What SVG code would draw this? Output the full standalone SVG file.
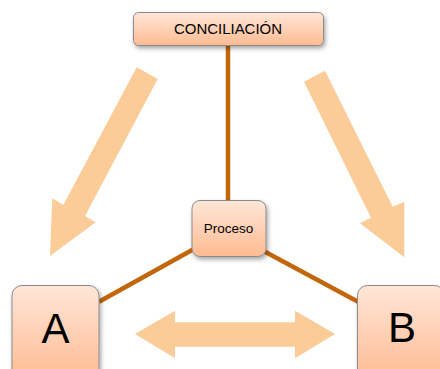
<svg xmlns="http://www.w3.org/2000/svg" width="440" height="369" viewBox="0 0 440 369">
  <defs>
    <linearGradient id="gBox" x1="0" y1="0" x2="0" y2="1">
      <stop offset="0" stop-color="#FFE6D8"/>
      <stop offset="1" stop-color="#FFBB92"/>
    </linearGradient>
    <filter id="shadow" x="-20%" y="-20%" width="150%" height="160%">
      <feDropShadow dx="1.5" dy="2.5" stdDeviation="2" flood-color="#000" flood-opacity="0.35"/>
    </filter>
  </defs>
  <style>
    .box { fill: url(#gBox); stroke: #8a8a8a; stroke-width: 1; filter: url(#shadow); }
    .lbl { font-family: "Liberation Sans", Arial, sans-serif; fill: #000; text-anchor: middle; }
    .con { stroke: #C2660A; stroke-width: 4.5; fill: none; }
    .bigArrow { fill: #FBCB98; }
  </style>
  <rect width="440" height="369" fill="#ffffff"/>
  <g id="arrows">
    <polygon class="bigArrow" points="136.7,67.3 157.7,79 85,216 95.7,222.3 50,256 52.3,198.3 63.3,205"/>
    <polygon class="bigArrow" points="325,70.7 304,81.7 371,217.7 360,223.3 404.3,257.3 404.3,201.7 392.7,206.7"/>
    <polygon class="bigArrow" points="135,334 175,310.7 175,322.3 295,322.3 295,310.7 335,334 295,358.3 295,346.7 175,346.7 175,358.3"/>
  </g>
  <g id="connectors">
    <line class="con" x1="228" y1="45" x2="228" y2="201"/>
    <line class="con" x1="193" y1="249.5" x2="99" y2="301.7"/>
    <line class="con" x1="265" y1="251.7" x2="358" y2="301.7"/>
  </g>
  <g id="conciliacion">
    <rect class="box" x="133.5" y="12.5" width="190" height="33" rx="5"/>
    <text class="lbl" x="228" y="33.5" font-size="14" textLength="108" lengthAdjust="spacingAndGlyphs">CONCILIACIÓN</text>
  </g>
  <g id="proceso">
    <rect class="box" x="192" y="200.5" width="74" height="56" rx="8"/>
    <text class="lbl" x="228.5" y="233.3" font-size="13.5">Proceso</text>
  </g>
  <g id="nodeA">
    <rect class="box" x="12" y="285.5" width="87" height="95" rx="10"/>
    <text class="lbl" x="55.5" y="342.5" font-size="42">A</text>
  </g>
  <g id="nodeB">
    <rect class="box" x="357.5" y="285.5" width="87" height="95" rx="10"/>
    <text class="lbl" x="402" y="342" font-size="42">B</text>
  </g>
</svg>
